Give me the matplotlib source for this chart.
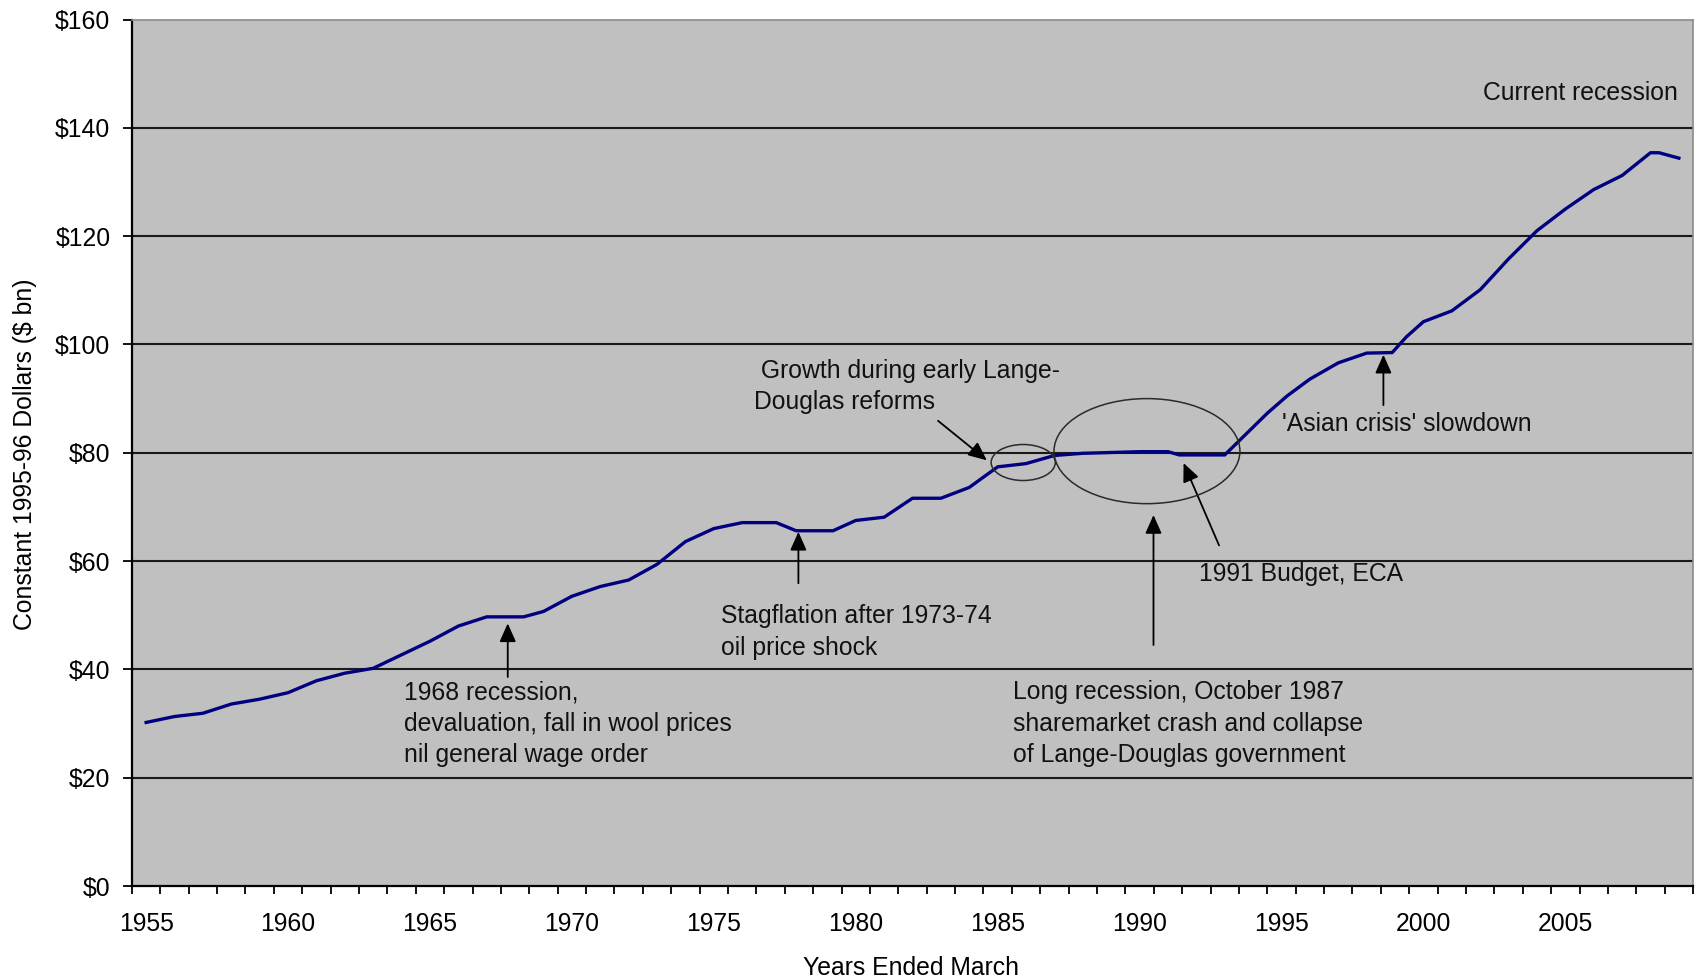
import matplotlib.pyplot as plt
from matplotlib.patches import Ellipse
import numpy as np

plt.rcParams['font.family'] = ['Liberation Sans', 'DejaVu Sans']

# GDP, constant 1995-96 dollars ($ bn), years ended March
years = [1955.0, 1956.0, 1957.0, 1958.0, 1959.0, 1960.0, 1961.0, 1962.0, 1963.0,
         1964.0, 1965.0, 1966.0, 1967.0, 1968.3, 1969.0, 1970.0, 1971.0, 1972.0,
         1973.0, 1974.0, 1975.0, 1976.0, 1977.2, 1977.9, 1979.2, 1980.0, 1981.0,
         1982.0, 1983.0, 1984.0, 1985.0, 1986.0, 1987.0, 1988.0, 1990.0, 1991.0,
         1991.4, 1993.0, 1994.5, 1995.2, 1996.0, 1997.0, 1998.0, 1998.9, 1999.4,
         2000.0, 2001.0, 2002.0, 2003.0, 2004.0, 2005.0, 2006.0, 2007.0, 2008.0,
         2008.3, 2009.0]
gdp = [30.2, 31.3, 31.9, 33.6, 34.5, 35.7, 37.9, 39.3, 40.2,
       42.7, 45.2, 48.0, 49.7, 49.7, 50.7, 53.5, 55.3, 56.5,
       59.4, 63.6, 66.0, 67.1, 67.1, 65.6, 65.6, 67.5, 68.1,
       71.6, 71.6, 73.6, 77.4, 78.0, 79.5, 79.9, 80.2, 80.2,
       79.6, 79.6, 87.3, 90.5, 93.6, 96.6, 98.4, 98.5, 101.4,
       104.2, 106.2, 110.1, 115.8, 121.0, 125.0, 128.6, 131.2, 135.4,
       135.4, 134.4]

year_labels = [1955, 1960, 1965, 1970, 1975, 1980, 1985, 1990, 1995, 2000, 2005]
dollar_ticks = [0, 20, 40, 60, 80, 100, 120, 140, 160]

# annotation texts and anchors (year, value)
notes = [
    ("1968 recession,\ndevaluation, fall in wool prices\nnil general wage order", (1964.1, 30.0)),
    ("Stagflation after 1973-74\noil price shock", (1975.25, 46.9)),
    (" Growth during early Lange-\nDouglas reforms", (1976.4, 92.3)),
    ("Long recession, October 1987\nsharemarket crash and collapse\nof Lange-Douglas government", (1985.55, 30.0)),
    ("1991 Budget, ECA", (1992.1, 57.6)),
    ("'Asian crisis' slowdown", (1995.0, 85.4)),
]
# arrows: (tail, tip)
arrows = [
    ((1967.74, 38.6), (1967.74, 48.5)),
    ((1977.98, 55.9), (1977.98, 65.4)),
    ((1982.9, 85.9), (1984.62, 78.6)),
    ((1990.49, 44.5), (1990.49, 68.5)),
    ((1992.8, 62.9), (1991.55, 78.1)),
    ((1998.59, 88.8), (1998.59, 98.1)),
]
# circles: (centre year, centre value, width years, height value)
rings = [(1985.9, 78.2, 2.26, 6.65), (1990.26, 80.3, 6.55, 19.4)]

fs = 17.8

fig = plt.figure(figsize=(16.98, 9.8), dpi=100)
ax = fig.add_axes([0.0777, 0.0959, 0.9194, 0.8842])
ax.set_facecolor('#c0c0c0')

for v in dollar_ticks[1:-1]:
    ax.axhline(v, color='#1a1a1a', lw=1.5, zorder=1)

ax.plot(years, gdp, color='#000080', lw=2.4, zorder=3)

for txt, (x, y) in notes:
    ax.text(x, y, txt, fontsize=fs, ha='left', va='center', color='#111111',
            linespacing=1.38, zorder=4)
ax.text(2008.97, 146.5, "Current recession", fontsize=fs, ha='right', va='center',
        color='#111111', zorder=4)

for tail, tip in arrows:
    ax.annotate('', xy=tip, xytext=tail,
                arrowprops=dict(arrowstyle='-|>,head_length=0.45,head_width=0.2',
                                mutation_scale=25, lw=1.3, color='black',
                                shrinkA=0, shrinkB=0), zorder=4)

for cx, cy, w, h in rings:
    ax.add_patch(Ellipse((cx, cy), w, h, fill=False, edgecolor='#2a2a2a', lw=1.1, zorder=4))

ax.set_xlim(1954.5, 2009.5)
ax.set_ylim(0, 160)

ax.set_yticks(dollar_ticks)
ax.set_yticklabels(['$%d' % v for v in dollar_ticks])
ax.tick_params(axis='y', direction='out', length=6.5, width=1.3, pad=9, labelsize=fs)

ax.set_xticks(year_labels)
ax.set_xticklabels([str(y) for y in year_labels])
ax.set_xticks(np.arange(1954.5, 2010, 1), minor=True)
ax.tick_params(axis='x', which='major', length=0, pad=19, labelsize=fs)
ax.tick_params(axis='x', which='minor', direction='out', length=6, width=1.3)

for s in ['left', 'bottom']:
    ax.spines[s].set_color('black')
    ax.spines[s].set_linewidth(1.6)
for s in ['top', 'right']:
    ax.spines[s].set_color('#8a8a8a')
    ax.spines[s].set_linewidth(1.2)

fig.text(25 / 1698, 1 - 454 / 980, "Constant 1995-96 Dollars ($ bn)", rotation=90,
         ha='center', va='center', fontsize=fs)
fig.text(911 / 1698, 1 - 968 / 980, "Years Ended March", ha='center', va='center',
         fontsize=fs)

plt.savefig('out.png', dpi=100)
